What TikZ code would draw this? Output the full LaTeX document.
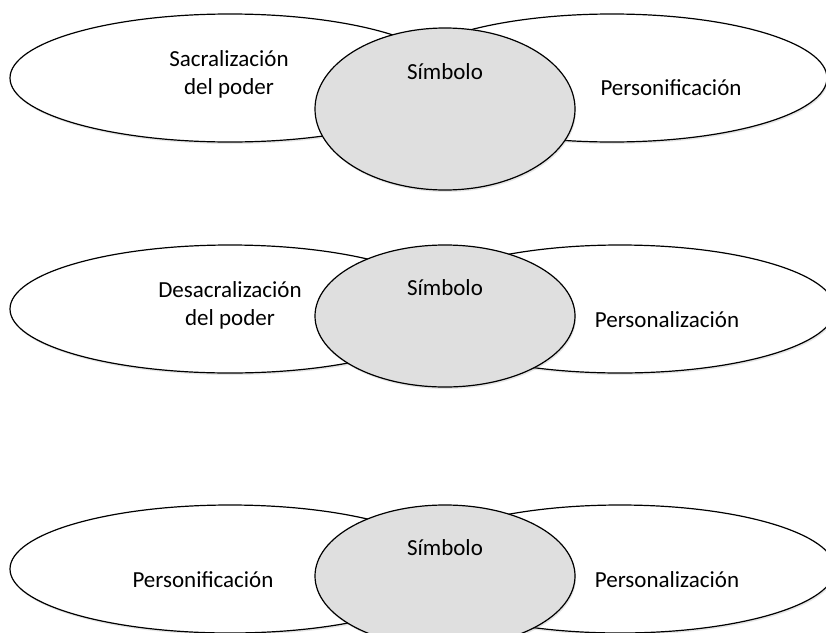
\documentclass[tikz,border=0pt]{standalone}
\usepackage{fontspec}
\setmainfont{Carlito}
\usetikzlibrary{positioning,shapes.geometric,shadows}
\tikzset{
  lado/.style={ellipse,draw,line width=1.2pt,fill=white,inner sep=0pt,
    minimum width=440pt,minimum height=128pt,
    drop shadow={shadow xshift=1pt,shadow yshift=-2pt,opacity=0.2}},
  centro/.style={lado,fill=gray!25,minimum width=260pt},
  rotulo/.style={font=\fontsize{23}{28}\selectfont,align=center}
}

\begin{document}
\begin{tikzpicture}[x=1pt,y=-1pt]
\clip (0,0) rectangle (826,632);
% fila 1
\node[lado] (izq1) at (230,78) {};
\node[lado,minimum width=430pt] (der1) at (612,78) {};
\node[centro,minimum height=162pt] (sim1) at (445,109) {};
\node[rotulo] (tizq1) at (229,74) {Sacralización\\del poder};
\node[rotulo] (tsim1) at (445,72) {Símbolo};
\node[rotulo] (tder1) at (671,88) {Personificación};
% fila 2
\node[lado] (izq2) at (230,309) {};
\node[lado,minimum width=430pt] (der2) at (620,309) {};
\node[centro,minimum height=142pt] (sim2) at (445,316) {};
\node[rotulo] (tizq2) at (230,305) {Desacralización\\del poder};
\node[rotulo] (tsim2) at (445,288) {Símbolo};
\node[rotulo] (tder2) at (667,320) {Personalización};
% fila 3
\node[lado] (izq3) at (230,569) {};
\node[lado,minimum width=430pt] (der3) at (620,569) {};
\node[centro,minimum height=142pt] (sim3) at (445,576) {};
\node[rotulo] (tizq3) at (203,580) {Personificación};
\node[rotulo] (tsim3) at (445,548) {Símbolo};
\node[rotulo] (tder3) at (667,580) {Personalización};
\end{tikzpicture}
\end{document}
